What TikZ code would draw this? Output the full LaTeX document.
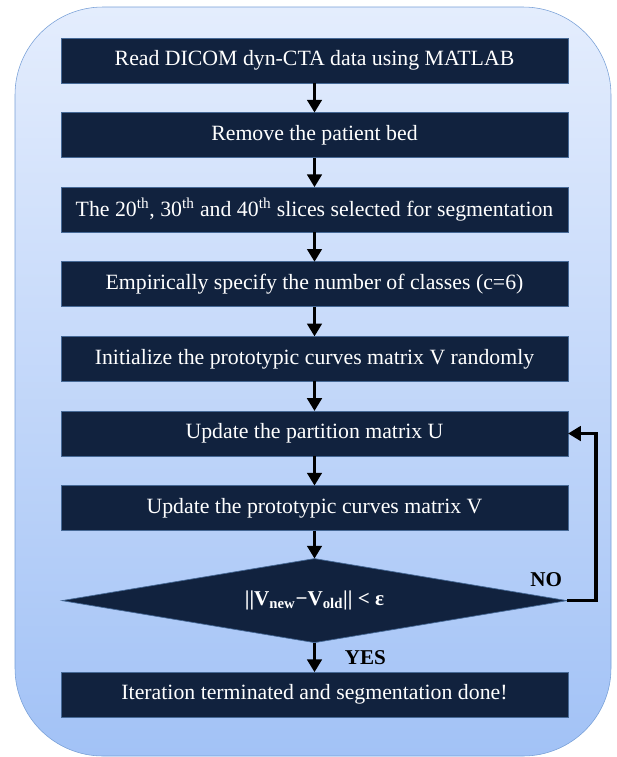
\documentclass[tikz,border=0pt]{standalone}
\usepackage{fontspec}
\setmainfont{Liberation Serif}
\usetikzlibrary{shapes.geometric,arrows.meta,positioning}
\definecolor{navy}{RGB}{17,34,62}
\definecolor{edge}{RGB}{70,105,150}
\definecolor{bgtop}{RGB}{228,237,253}
\definecolor{bgbot}{RGB}{162,194,246}
\definecolor{bgline}{RGB}{120,160,215}
\tikzset{b/.style={draw=edge,fill=navy,text=white,font=\fontsize{15.5}{18}\selectfont,minimum width=126.75mm,minimum height=11.25mm,inner sep=0pt,outer sep=0pt,line width=.5pt},
 d/.style={draw=edge,fill=navy,text=white,diamond,aspect=6,minimum width=126.25mm,minimum height=21mm,inner sep=0pt,outer sep=0pt,line width=.5pt,font=\fontsize{15}{18}\selectfont\bfseries},
 ar/.style={line width=2.5pt,-{Triangle[length=3.2mm,width=3.6mm]}},lb/.style={font=\fontsize{15}{18}\selectfont\bfseries}}
\newcommand{\thx}{\textsuperscript{th}}
\begin{document}
\begin{tikzpicture}[x=.25mm,y=-.25mm,node distance=7.4mm]
\useasboundingbox(0,0)rectangle(616,757);
\shadedraw[top color=bgtop,bottom color=bgbot,draw=bgline,rounded corners=22mm](15,7)rectangle(611,756);
\node[b](a)at(314.5,60.5){Read DICOM dyn-CTA data using MATLAB};\node[b,below=of a](b){Remove the patient bed};
\node[b,below=of b](c){The 20\thx, 30\thx\ and 40\thx\ slices selected for segmentation};
\node[b,below=of c](e){Empirically specify the number of classes (c=6)};
\node[b,below=of e](f){Initialize the prototypic curves matrix V randomly};
\node[b,below=of f](g){Update the partition matrix U};\node[b,below=of g](h){Update the prototypic curves matrix V};
\node[d,below=7mm of h](k){||V\textsubscript{new}−V\textsubscript{old}|| < ε};\node[b,below=of k](m){Iteration terminated and segmentation done!};
\draw[ar](a)--(b);\draw[ar](b)--(c);\draw[ar](c)--(e);\draw[ar](e)--(f);\draw[ar](f)--(g);\draw[ar](g)--(h);\draw[ar](h)--(k);
\draw[ar](k)--node[lb,right=6mm]{YES}(m);\draw[ar](k.east)--++(7.25mm,0)|-(g.east);
\node[lb,above left=2.2mm and 0mm of k.east](n){NO};\end{tikzpicture}
\end{document}
